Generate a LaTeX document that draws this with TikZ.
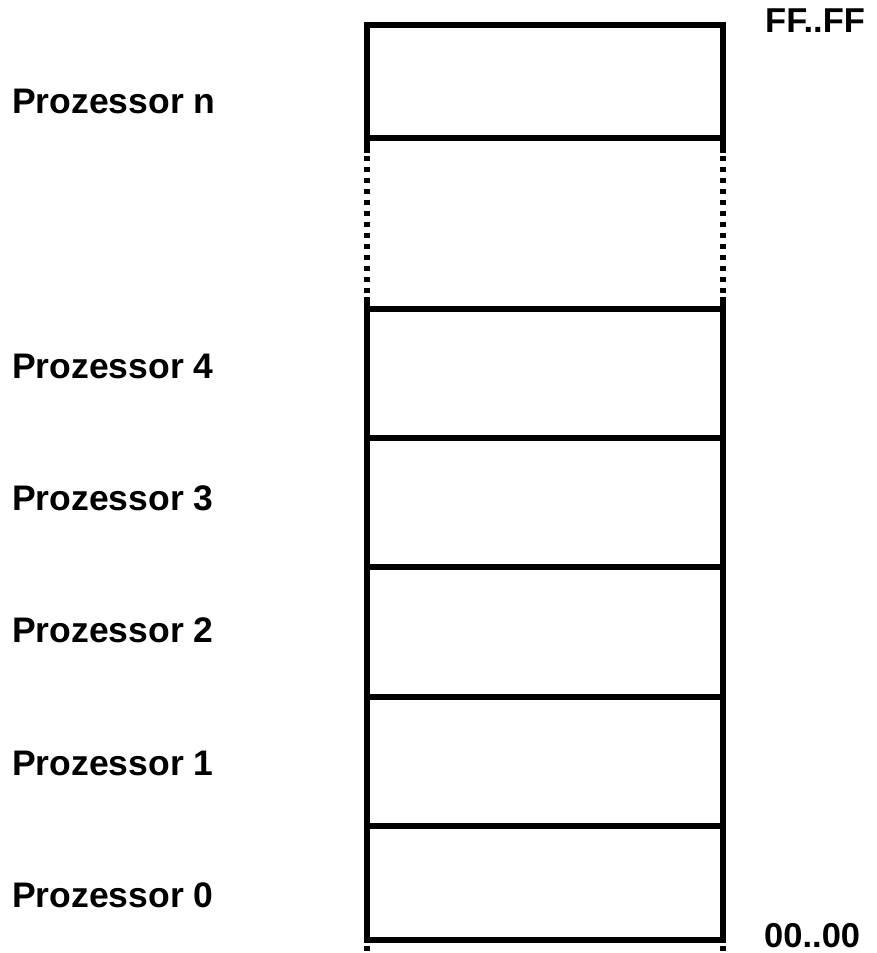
\documentclass[tikz,border=0pt]{standalone}
\usepackage{fontspec}
\setmainfont{Liberation Sans}
\usepackage{tikz}
\usetikzlibrary{positioning}

\begin{document}
\begin{tikzpicture}[
  x=1pt, y=-1pt,
  wall/.style={line width=5.5pt, line cap=rect},
  dotwall/.style={line width=5.5pt, dash pattern=on 5pt off 6pt},
  lbl/.style={anchor=base west, inner sep=0pt, font=\fontsize{35.5}{40}\selectfont\bfseries},
  addr/.style={anchor=base west, inner sep=0pt, font=\fontsize{34.5}{40}\selectfont\bfseries},
]
\useasboundingbox (0,0) rectangle (877,953);

%% Memory column: solid walls, dotted gap between n and 4
\draw[wall] (367,25) -- (367,150);
\draw[wall] (723,25) -- (723,150);
\draw[dotwall] (367,156) -- (367,297);
\draw[dotwall] (723,156) -- (723,297);
\draw[wall] (367,300) -- (367,940);
\draw[wall] (723,300) -- (723,940);
\draw[dotwall] (367,946) -- (367,975);
\draw[dotwall] (723,946) -- (723,975);

%% Cell borders
\foreach \y in {25,138,309,438,567,697,826,940}
  \draw[wall] (367,\y) -- (723,\y);

%% Processor labels
\foreach \y/\k in {113/n,378/4,510/3,642/2,775/1,907/0}
  \node[lbl] (p\k) at (12,\y) {Prozessor \k};

%% Address range
\node[addr] (hi) at (765,32) {FF..FF};
\node[addr] (lo) at (764,947) {00..00};

\end{tikzpicture}
\end{document}
